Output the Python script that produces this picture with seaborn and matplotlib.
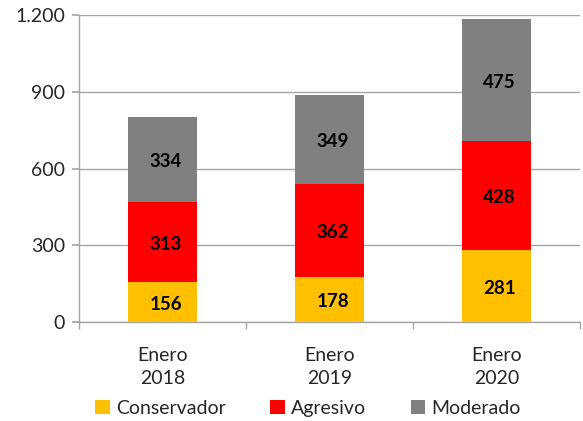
import matplotlib
matplotlib.use("Agg")
import matplotlib.pyplot as plt
import seaborn as sns
import numpy as np
import pandas as pd
from matplotlib.ticker import FuncFormatter, FixedLocator
from matplotlib.patches import Patch

categories = ["Enero\n2018", "Enero\n2019", "Enero\n2020"]
conservador = [156, 178, 281]
agresivo = [313, 362, 428]
moderado = [334, 349, 475]
series_names = ["Conservador", "Agresivo", "Moderado"]
colors = ["#FFC000", "#FF0000", "#808080"]
yticks = [0, 300, 600, 900, 1200]

sns.set_theme(style="white")
plt.rcParams['font.family'] = ['Lato', 'DejaVu Sans']

fig = plt.figure(figsize=(5.83, 4.21), dpi=100)
ax = fig.add_axes([0.1355, 0.235, 0.859, 0.729])

c = np.array(conservador)
a = np.array(agresivo)
m = np.array(moderado)
levels = [c, c + a, c + a + m]

df = pd.DataFrame({"cat": categories})
for lvl, col in zip(reversed(levels), reversed(colors)):
    sns.barplot(x=df["cat"], y=lvl, color=col, width=0.415, ax=ax,
                saturation=1, linewidth=0, zorder=3)

bottoms = [np.zeros(3), c, c + a]
for vals, bot in zip([c, a, m], bottoms):
    for i, (v, b) in enumerate(zip(vals, bot)):
        ax.text(i + 0.02, b + v / 2 - 8, f"{v}", ha="center", va="center",
                fontsize=13.5, fontweight="bold", color="black", zorder=5)

ax.set_ylim(0, 1200)
ax.set_xlim(-0.5, 2.5)
ax.set_yticks(yticks)
ax.yaxis.set_major_formatter(FuncFormatter(lambda v, p: f"{int(v):,}".replace(",", ".")))
ax.set_xlabel("")
ax.set_ylabel("")
ax.grid(axis="y", color="#A6A6A6", linewidth=1, zorder=0)
ax.grid(axis="x", visible=False)
for s in ["top", "right"]:
    ax.spines[s].set_visible(False)
for s in ["left", "bottom"]:
    ax.spines[s].set_color("#A6A6A6")
    ax.spines[s].set_linewidth(1)
ax.tick_params(axis="y", which="major", length=5, color="#A6A6A6", labelsize=14, pad=5, direction="out", left=True)
ax.tick_params(axis="x", which="major", length=0, labelsize=14, pad=18)
ax.xaxis.set_minor_locator(FixedLocator([-0.5, 0.5, 1.5, 2.5]))
ax.tick_params(axis="x", which="minor", length=5, color="#A6A6A6", direction="out", bottom=True)
for lbl in ax.get_xticklabels():
    lbl.set_linespacing(1.4)

handles = [Patch(facecolor=col, edgecolor="none", label=n) for n, col in zip(series_names, colors)]
fig.legend(handles=handles, loc="center", bbox_to_anchor=(0.528, 0.03), ncol=3, frameon=False,
           fontsize=14, handlelength=0.75, handleheight=0.75, handletextpad=0.3, columnspacing=2.3)

fig.savefig("out.png", dpi=100)
